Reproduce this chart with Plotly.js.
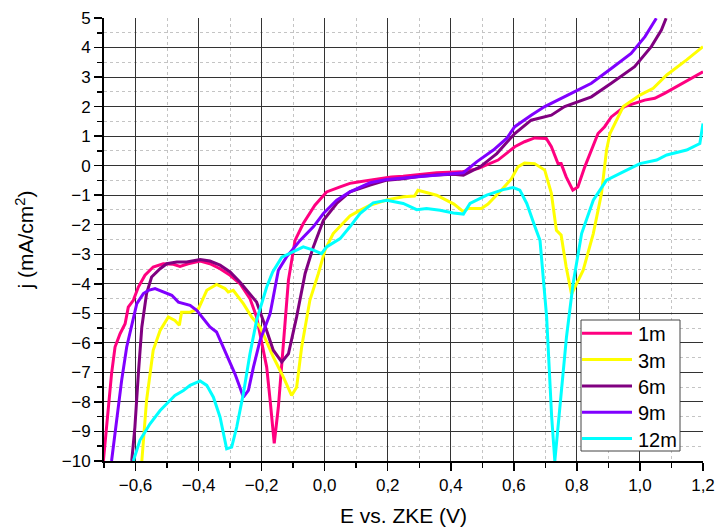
<!DOCTYPE html>
<html>
<head>
<meta charset="utf-8">
<script src="https://cdn.plot.ly/plotly-3.0.1.min.js"></script>
<style>html,body{margin:0;padding:0;background:#fff;}#chart{width:718px;height:528px;}</style>
</head>
<body>
<div id="chart"></div>
<script>
// ---- data ----
const seriesNames = ["1m", "3m", "6m", "9m", "12m"];
const seriesColors = ["#FF0080", "#FFFF00", "#800080", "#8000FF", "#00FFFF"];

const e1m = [-0.702,-0.691,-0.676,-0.665,-0.649,-0.633,-0.623,-0.607,-0.591,-0.57,-0.544,-0.512,-0.48,-0.459,-0.433,-0.395,-0.364,-0.332,-0.3,-0.269,-0.237,-0.216,-0.205,-0.184,-0.173,-0.16,-0.147,-0.131,-0.115,-0.094,-0.068,-0.031,0.006,0.049,0.08,0.106,0.144,0.211,0.249,0.317,0.355,0.433,0.486,0.55,0.603,0.634,0.666,0.703,0.719,0.74,0.75,0.766,0.787,0.803,0.825,0.867,0.888,0.909,0.951,1.015,1.047,1.078,1.142,1.2];
const j1m = [-10,-8.63,-7.04,-6.14,-5.69,-5.35,-4.79,-4.56,-4.11,-3.71,-3.43,-3.32,-3.34,-3.41,-3.32,-3.23,-3.32,-3.49,-3.71,-3.99,-4.5,-5.12,-5.69,-6.82,-7.95,-9.4,-8.18,-5.92,-3.88,-2.53,-1.96,-1.34,-0.89,-0.72,-0.6,-0.55,-0.49,-0.38,-0.36,-0.27,-0.24,-0.21,-0.1,0.19,0.64,0.81,0.94,0.92,0.64,0.07,0.07,-0.38,-0.83,-0.72,-0.04,1.09,1.32,1.65,2.0,2.22,2.28,2.45,2.84,3.18];

const e3m = [-0.58,-0.565,-0.544,-0.522,-0.496,-0.475,-0.461,-0.454,-0.427,-0.4,-0.374,-0.343,-0.316,-0.306,-0.29,-0.258,-0.232,-0.205,-0.163,-0.131,-0.105,-0.089,-0.073,-0.047,-0.02,0.001,0.027,0.08,0.106,0.144,0.2,0.25,0.285,0.296,0.355,0.41,0.439,0.455,0.497,0.518,0.56,0.592,0.613,0.634,0.666,0.698,0.719,0.735,0.75,0.766,0.783,0.795,0.82,0.852,0.878,0.894,0.905,0.947,1.0,1.042,1.085,1.148,1.2];
const j3m = [-10,-7.95,-6.25,-5.58,-5.12,-5.24,-5.4,-4.96,-4.96,-4.84,-4.22,-4.02,-4.16,-4.28,-4.22,-4.67,-5.12,-5.46,-6.48,-7.16,-7.78,-7.5,-6.14,-4.56,-3.65,-2.86,-2.3,-1.7,-1.55,-1.34,-1.15,-1.05,-1.03,-0.83,-1.0,-1.3,-1.55,-1.45,-1.45,-1.3,-0.83,-0.45,-0.04,0.09,0.07,-0.15,-0.94,-2.19,-2.35,-3.43,-4.35,-4.1,-3.54,-2.3,-0.94,0.53,1.09,2.0,2.39,2.62,3.07,3.58,4.03];

const e6m = [-0.612,-0.602,-0.591,-0.58,-0.565,-0.549,-0.522,-0.501,-0.469,-0.438,-0.395,-0.364,-0.332,-0.3,-0.269,-0.237,-0.216,-0.195,-0.173,-0.163,-0.136,-0.115,-0.089,-0.062,-0.036,-0.004,0.038,0.08,0.144,0.197,0.249,0.302,0.355,0.408,0.44,0.493,0.546,0.603,0.655,0.719,0.761,0.846,0.909,0.983,1.036,1.068,1.083];
const j6m = [-10,-8.85,-7.04,-5.46,-4.33,-3.77,-3.49,-3.32,-3.26,-3.26,-3.18,-3.23,-3.37,-3.6,-3.94,-4.33,-4.62,-5.24,-5.92,-6.25,-6.65,-6.37,-5.12,-3.65,-2.75,-1.85,-1.28,-0.89,-0.66,-0.49,-0.44,-0.36,-0.32,-0.29,-0.32,-0.04,0.41,1.09,1.54,1.71,2.0,2.33,2.79,3.35,4.03,4.59,4.99];

const e9m = [-0.676,-0.66,-0.644,-0.628,-0.612,-0.596,-0.575,-0.559,-0.538,-0.512,-0.485,-0.464,-0.427,-0.406,-0.385,-0.364,-0.343,-0.322,-0.306,-0.285,-0.269,-0.258,-0.242,-0.226,-0.205,-0.173,-0.147,-0.121,-0.078,-0.036,-0.004,0.038,0.08,0.144,0.197,0.302,0.408,0.44,0.482,0.535,0.577,0.603,0.655,0.698,0.782,0.846,0.909,0.972,1.016,1.052];
const j9m = [-10,-8.63,-7.27,-6.14,-5.35,-4.67,-4.33,-4.22,-4.16,-4.28,-4.39,-4.62,-4.73,-4.9,-5.18,-5.46,-5.63,-6.14,-6.59,-7.04,-7.5,-7.84,-7.61,-6.82,-5.92,-5.01,-3.54,-3.09,-2.53,-2.07,-1.62,-1.17,-0.89,-0.58,-0.47,-0.38,-0.27,-0.24,0.13,0.53,0.92,1.32,1.71,2.0,2.45,2.79,3.29,3.8,4.37,4.99];

const e12m = [-0.607,-0.586,-0.554,-0.522,-0.501,-0.475,-0.448,-0.427,-0.395,-0.374,-0.353,-0.332,-0.311,-0.295,-0.279,-0.258,-0.237,-0.216,-0.184,-0.165,-0.136,-0.105,-0.068,-0.036,-0.01,0.006,0.049,0.08,0.112,0.154,0.197,0.249,0.292,0.323,0.366,0.408,0.44,0.461,0.514,0.566,0.598,0.619,0.641,0.667,0.683,0.704,0.72,0.73,0.746,0.767,0.788,0.815,0.852,0.894,0.958,1.0,1.053,1.085,1.148,1.19,1.2];
const j12m = [-10,-9.3,-8.74,-8.29,-8.06,-7.78,-7.61,-7.44,-7.29,-7.44,-7.84,-8.51,-9.59,-9.53,-8.85,-7.72,-6.37,-5.24,-4.11,-3.6,-3.1,-2.95,-2.75,-2.86,-2.98,-2.75,-2.47,-2.07,-1.62,-1.26,-1.17,-1.28,-1.49,-1.45,-1.51,-1.6,-1.64,-1.28,-1.0,-0.81,-0.74,-0.83,-1.28,-2.07,-2.53,-5.12,-8.51,-10,-8.29,-5.8,-3.99,-2.3,-1.17,-0.49,-0.15,0.07,0.19,0.36,0.53,0.75,1.43];

const xs = [e1m, e3m, e6m, e9m, e12m];
const ys = [j1m, j3m, j6m, j9m, j12m];

const FONT = 'Arial, "Liberation Sans", sans-serif';

const W = 718, H = 528;
const M = {l: 104, r: 15, t: 18, b: 67};
const PW = W - M.l - M.r, PH = H - M.t - M.b;
// pixel -> paper helpers for the legend box
const px = v => (v - M.l) / PW;
const py = v => (H - M.b - v) / PH;

const traces = seriesNames.map((n, i) => ({
  type: 'scatter', mode: 'lines', name: n,
  x: xs[i], y: ys[i],
  line: {color: seriesColors[i], width: 3},
  showlegend: false
}));

// custom legend (box, line samples, labels)
const shapes = [{
  type: 'rect', xref: 'paper', yref: 'paper', layer: 'above',
  x0: px(581), x1: px(680), y0: py(451), y1: py(320),
  fillcolor: '#fff', line: {color: '#444', width: 1}
}];
const annotations = [];
seriesNames.forEach((n, i) => {
  const yc = 333.3 + i * 26.3;
  shapes.push({type: 'line', xref: 'paper', yref: 'paper', layer: 'above',
    x0: px(582), x1: px(632), y0: py(yc), y1: py(yc),
    line: {color: seriesColors[i], width: 3}});
  annotations.push({xref: 'paper', yref: 'paper', x: px(636), y: py(yc + 1),
    xanchor: 'left', yanchor: 'middle', showarrow: false, text: n,
    font: {family: FONT, size: 20, color: '#000'}});
});

const layout = {
  width: W, height: H,
  margin: M,
  paper_bgcolor: '#fff', plot_bgcolor: '#fff',
  separators: ',.',
  font: {family: FONT, color: '#000', size: 17},
  showlegend: false,
  shapes: shapes,
  annotations: annotations,
  xaxis: {
    range: [-0.7, 1.2], dtick: 0.2, tick0: 0, tickformat: '.1f',
    showline: true, linecolor: '#000', linewidth: 2, mirror: false,
    ticks: 'outside', ticklen: 8, tickwidth: 1.5, tickcolor: '#000',
    showgrid: true, gridcolor: '#333', gridwidth: 1,
    zeroline: false,
    minor: {dtick: 0.1, ticks: 'outside', ticklen: 5, tickcolor: '#000', tickwidth: 1.5,
            showgrid: true, gridcolor: '#c4c4c4', griddash: 'dot', gridwidth: 1},
    tickfont: {family: FONT, size: 17},
    title: {text: 'E vs. ZKE (V)', font: {family: FONT, size: 21}, standoff: 14}
  },
  yaxis: {
    range: [-10, 5], dtick: 1, tick0: 0,
    showline: true, linecolor: '#000', linewidth: 2, mirror: false,
    ticks: 'outside', ticklen: 8, tickwidth: 1.5, tickcolor: '#000',
    showgrid: true, gridcolor: '#333', gridwidth: 1,
    zeroline: false,
    minor: {dtick: 0.5, ticks: 'outside', ticklen: 5, tickcolor: '#000', tickwidth: 1.5,
            showgrid: true, gridcolor: '#c4c4c4', griddash: 'dot', gridwidth: 1},
    tickfont: {family: FONT, size: 17},
    title: {text: 'j (mA/cm<sup>2</sup>)', font: {family: FONT, size: 21}, standoff: 22}
  }
};

Plotly.newPlot('chart', traces, layout, {displayModeBar: false, staticPlot: true});
</script>
</body>
</html>
